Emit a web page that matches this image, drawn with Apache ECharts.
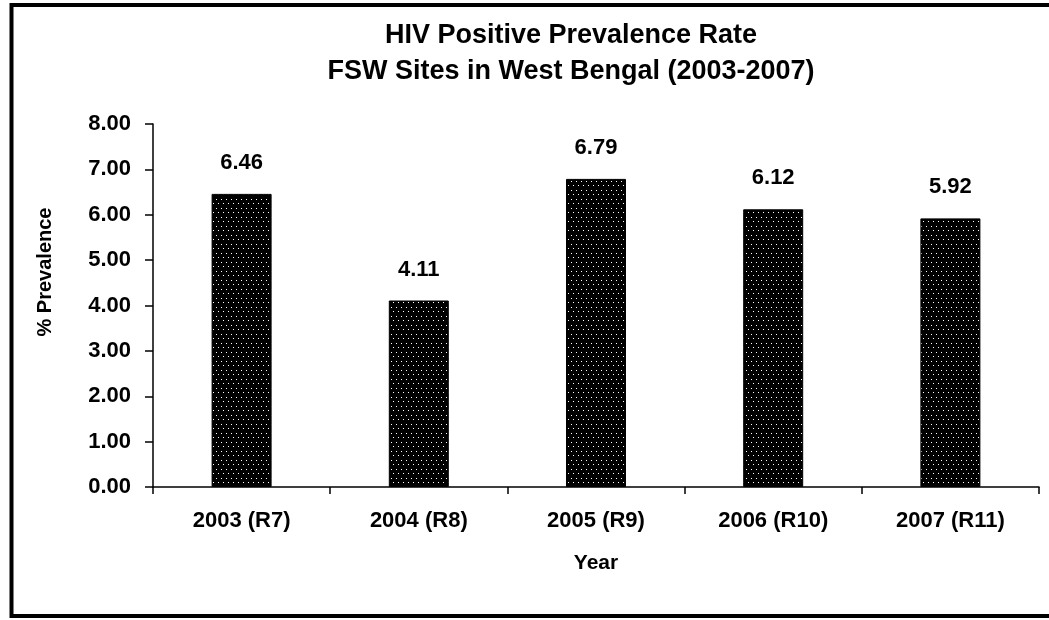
<!DOCTYPE html>
<html>
<head>
<meta charset="utf-8">
<script src="https://cdn.jsdelivr.net/npm/echarts@6/dist/echarts.min.js"></script>
<style>
html,body{margin:0;padding:0;background:#fff;}
#chart{width:1049px;height:620px;}
</style>
</head>
<body>
<div id="chart"></div>
<script>
const categories = ['2003 (R7)', '2004 (R8)', '2005 (R9)', '2006 (R10)', '2007 (R11)'];
const prevalence = [6.46, 4.11, 6.79, 6.12, 5.92];
const titleLines = ['HIV Positive Prevalence Rate', 'FSW Sites in West Bengal (2003-2007)'];
const yAxisTitle = '% Prevalence';
const xAxisTitle = 'Year';

const FONT = '"Liberation Sans", Arial, sans-serif';

// dotted fill pattern: black with staggered white dots
const pat = document.createElement('canvas');
pat.width = 10; pat.height = 9;
const pc = pat.getContext('2d');
pc.fillStyle = '#000'; pc.fillRect(0, 0, 10, 9);
pc.fillStyle = '#fff';
pc.fillRect(1, 1, 1, 1); pc.fillRect(6, 1, 1, 1);
pc.fillRect(3, 5, 1, 1); pc.fillRect(8, 5, 1, 1);

const chart = echarts.init(document.getElementById('chart'), null, {renderer: 'canvas'});
chart.setOption({
  animation: false,
  backgroundColor: '#fff',
  title: {
    text: titleLines.join('\n'),
    left: 566, top: 13, textAlign: 'center',
    textStyle: {fontFamily: FONT, fontWeight: 'bold', fontSize: 27, lineHeight: 36, color: '#000'}
  },
  grid: {left: 153, right: 10, top: 124, bottom: 133, containLabel: false},
  xAxis: {
    type: 'category',
    data: categories,
    axisLine: {lineStyle: {color: '#000', width: 1.5}},
    axisTick: {show: true, length: 7, lineStyle: {color: '#000', width: 1.5}},
    axisLabel: {fontFamily: FONT, fontWeight: 'bold', fontSize: 22, color: '#000', margin: 23},
    name: xAxisTitle, nameLocation: 'middle', nameGap: 66,
    nameTextStyle: {fontFamily: FONT, fontWeight: 'bold', fontSize: 21, color: '#000'}
  },
  yAxis: {
    type: 'value', min: 0, max: 8, interval: 1,
    splitLine: {show: false},
    axisLine: {show: true, lineStyle: {color: '#000', width: 1.5}},
    axisTick: {show: true, length: 8, lineStyle: {color: '#000', width: 1.5}},
    axisLabel: {fontFamily: FONT, fontWeight: 'bold', fontSize: 22, color: '#000', margin: 22,
      formatter: v => v.toFixed(2)}
  },
  graphic: [
    {type: 'rect', shape: {x: 11.5, y: 5, width: 1049, height: 611},
      style: {fill: 'none', stroke: '#000', lineWidth: 4}, z: 100},
    {type: 'text', x: 45, y: 272, rotation: Math.PI / 2,
      style: {text: yAxisTitle, fontFamily: FONT, fontWeight: 'bold', fontSize: 20, fill: '#000',
        align: 'center', verticalAlign: 'middle'}}
  ],
  series: [{
    type: 'bar',
    data: prevalence,
    barWidth: 60,
    itemStyle: {color: {image: pat, repeat: 'repeat'}, borderColor: '#000', borderWidth: 1},
    label: {show: true, position: 'top', distance: 20, formatter: p => p.value.toFixed(2),
      fontFamily: FONT, fontWeight: 'bold', fontSize: 22, color: '#000'}
  }]
});
</script>
</body>
</html>
